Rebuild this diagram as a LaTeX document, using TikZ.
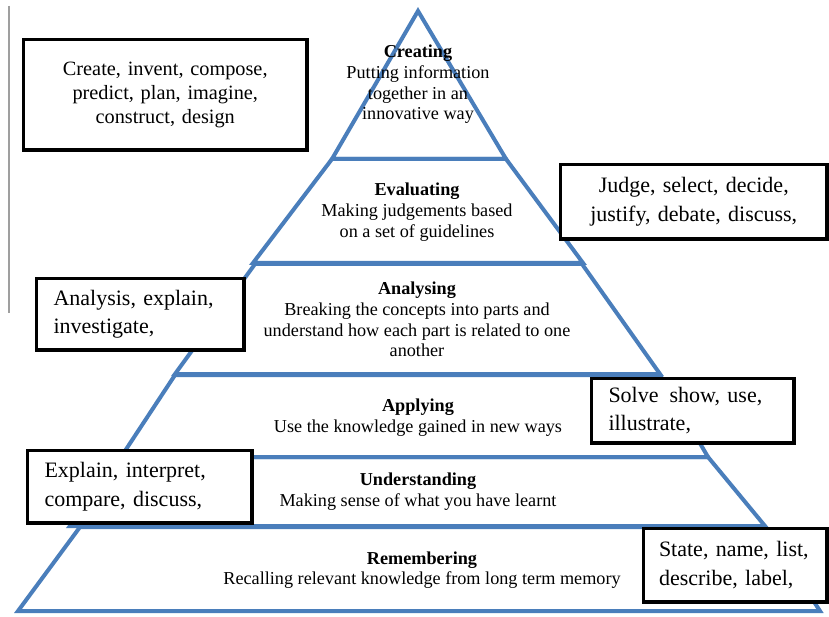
\documentclass[tikz,border=0pt]{standalone}
\usepackage{fontspec}
\setmainfont{Liberation Serif}
\definecolor{pyr}{RGB}{74,126,187}
\begin{document}
\begin{tikzpicture}[x=1pt,y=-1pt,
  layer/.style={draw=pyr, line width=4pt, line join=miter},
  wordbox/.style={draw=black, line width=3.5pt, fill=white, anchor=north west,
    inner xsep=17pt, inner ysep=0pt, font=\fontsize{22}{28.5}\selectfont},
  lvl/.style={align=center, inner sep=0pt, font=\fontsize{18.2}{20.7}\selectfont}]
\useasboundingbox (0,0) rectangle (829,617);
% left gray rule
\draw[gray!75, line width=2pt] (9,6) -- (9,313);
% pyramid layers
\draw[layer] (418,11) -- (506,159) -- (332,159) -- cycle;
\draw[layer] (332,159) -- (506,159) -- (583,263) -- (253,263) -- cycle;
\draw[layer] (255,264) -- (582,264) -- (660,374) -- (175,374) -- cycle;
\draw[layer] (175,375) -- (660,375) -- (708,457) -- (121,457) -- cycle;
\draw[layer] (122,457) -- (708,457) -- (765,526) -- (70,526) -- cycle;
\draw[layer] (80,527) -- (765,527) -- (820,611) -- (18,611) -- cycle;
% level texts
\node[lvl] (creating) at (418,84.5) {\textbf{Creating}\\Putting information\\together in an\\innovative way};
\node[lvl] (evaluating) at (417,212) {\textbf{Evaluating}\\Making judgements based\\on a set of guidelines};
\node[lvl] (analysing) at (417,319.5) {\textbf{Analysing}\\Breaking the concepts into parts and\\understand how each part is related to one\\another};
\node[lvl] (applying) at (418,417.5) {\textbf{Applying}\\Use the knowledge gained in new ways};
\node[lvl] (understanding) at (418,491.5) {\textbf{Understanding}\\Making sense of what you have learnt};
\node[lvl] (remembering) at (422,570) {\textbf{Remembering}\\Recalling relevant knowledge from long term memory};
% verb boxes
\node[wordbox, align=center, font=\fontsize{20.3}{24}\selectfont, text width=249.5pt, minimum height=110.5pt] (createbox) at (21.75,37.75) {Create, invent, compose,\\predict, plan, imagine,\\construct, design};
\node[wordbox, align=center, text width=232.5pt, minimum height=74.5pt] (judgebox) at (558.75,162.75) {Judge, select, decide,\\justify, debate, discuss,};
\node[wordbox, align=left, text width=173.5pt, minimum height=71.5pt] (analysisbox) at (34.75,276.75) {Analysis, explain,\\investigate,};
\node[wordbox, align=left, text width=168.5pt, minimum height=64.5pt] (solvebox) at (589.75,376.75) {Solve\enspace show, use,\\illustrate,};
\node[wordbox, align=left, text width=190.5pt, minimum height=72.5pt] (explainbox) at (25.75,448.75) {Explain, interpret,\\compare, discuss,};
\node[wordbox, align=left, inner xsep=15.5pt, text width=152.5pt, minimum height=73.5pt] (statebox) at (641.75,526.75) {State, name, list,\\describe, label,};
\end{tikzpicture}
\end{document}
